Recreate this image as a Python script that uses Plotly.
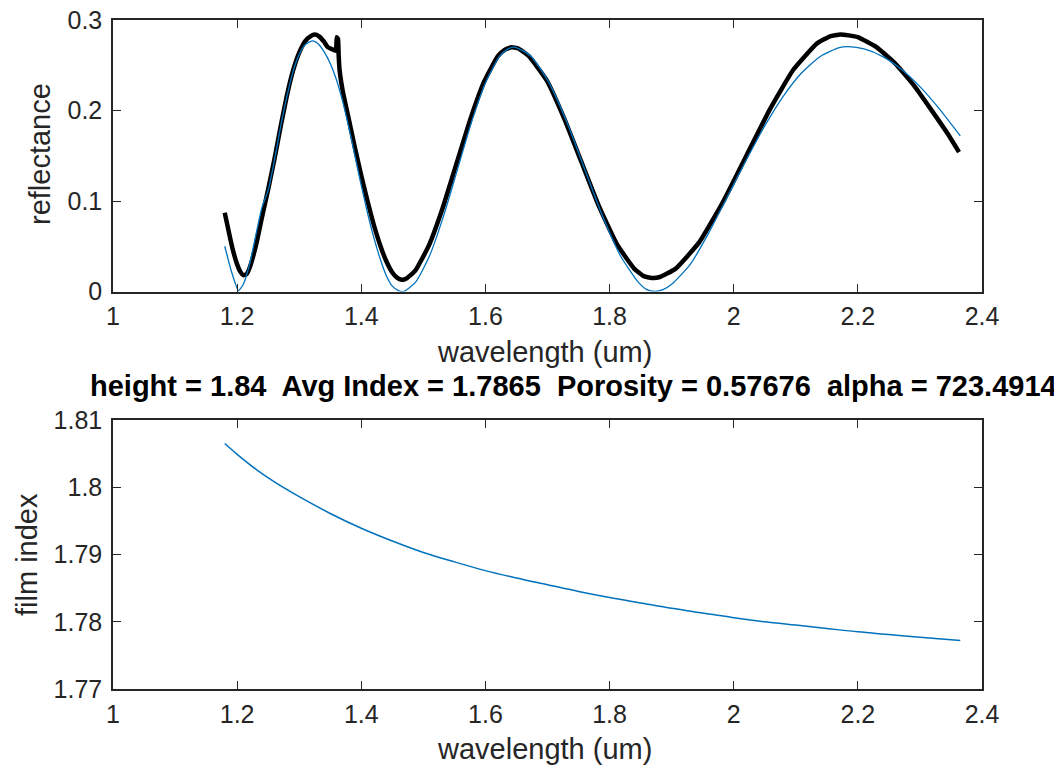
import plotly.graph_objects as go
from plotly.subplots import make_subplots

# ---- data ----
wl_meas = [1.180, 1.185, 1.190, 1.195, 1.200, 1.205, 1.210, 1.215, 1.220,
           1.230, 1.240, 1.250, 1.260, 1.270, 1.280, 1.290, 1.300,
           1.310, 1.318, 1.325, 1.332, 1.340, 1.346, 1.352, 1.359,
           1.3605, 1.3625, 1.3635, 1.365, 1.370,
           1.380, 1.390, 1.400, 1.410, 1.420, 1.430, 1.440, 1.450,
           1.458, 1.465, 1.472,
           1.487, 1.509, 1.531, 1.5535, 1.576, 1.598, 1.620,
           1.631, 1.642, 1.653,
           1.670, 1.699, 1.727, 1.755, 1.783, 1.812, 1.840,
           1.855, 1.868, 1.881,
           1.906, 1.944, 1.982, 2.020, 2.058, 2.096, 2.134,
           2.155, 2.172, 2.185,
           2.200, 2.230, 2.260, 2.290, 2.320, 2.345, 2.363]
refl_meas = [0.087, 0.071, 0.055, 0.041, 0.030, 0.022, 0.018, 0.019, 0.026,
             0.050, 0.082, 0.113, 0.146, 0.182, 0.216, 0.244, 0.264,
             0.277, 0.282, 0.284, 0.282, 0.276, 0.270, 0.268, 0.266,
             0.281, 0.279, 0.262, 0.245, 0.222,
             0.190, 0.158, 0.128, 0.100, 0.074, 0.052, 0.034, 0.021,
             0.015, 0.013, 0.014,
             0.023, 0.051, 0.092, 0.1415, 0.191, 0.232, 0.260,
             0.267, 0.270, 0.2685,
             0.260, 0.233, 0.191, 0.1425, 0.094, 0.052, 0.025,
             0.017, 0.015, 0.016,
             0.025, 0.054, 0.098, 0.1495, 0.201, 0.245, 0.274,
             0.282, 0.284, 0.283,
             0.281, 0.270, 0.252, 0.228, 0.199, 0.174, 0.154]

wl_fit = [1.180, 1.190, 1.196, 1.202, 1.210, 1.220, 1.230, 1.240, 1.250, 1.260,
          1.270, 1.280, 1.290, 1.300, 1.310, 1.322, 1.330, 1.340, 1.350, 1.360,
          1.370, 1.380, 1.390, 1.400, 1.410, 1.420, 1.430, 1.440, 1.450, 1.460,
          1.468, 1.4875, 1.510, 1.5325, 1.555, 1.5775, 1.600, 1.6225, 1.634, 1.645,
          1.656, 1.67375, 1.7025, 1.73125, 1.760, 1.78875, 1.8175, 1.84625, 1.860, 1.873,
          1.886, 1.900, 1.930, 1.960, 1.990, 2.020, 2.050, 2.080, 2.110, 2.140,
          2.170, 2.185, 2.210, 2.240, 2.270, 2.300, 2.330, 2.365]
refl_fit = [0.050, 0.024, 0.011, 0.001, 0.008, 0.030, 0.062, 0.093, 0.112, 0.145,
            0.182, 0.215, 0.243, 0.262, 0.273, 0.277, 0.274, 0.265, 0.252, 0.234,
            0.210, 0.181, 0.149, 0.117, 0.087, 0.060, 0.037, 0.018, 0.006, 0.001,
            0.000, 0.0103, 0.0395, 0.0833, 0.135, 0.187, 0.2305, 0.2597, 0.267, 0.270,
            0.2675, 0.2597, 0.2305, 0.187, 0.135, 0.0833, 0.0395, 0.0103, 0.002, 0.000,
            0.002, 0.008, 0.030, 0.065, 0.105, 0.145, 0.183, 0.216, 0.242, 0.260,
            0.2695, 0.2705, 0.268, 0.2596, 0.2456, 0.2264, 0.2029, 0.172]

wl_index = [1.18, 1.20, 1.23, 1.26, 1.30, 1.35, 1.40, 1.45, 1.50, 1.55, 1.60, 1.65,
            1.70, 1.75, 1.80, 1.85, 1.90, 1.95, 2.00, 2.05, 2.10, 2.15, 2.20, 2.25,
            2.30, 2.365]
film_index = [1.8065, 1.8049, 1.8027, 1.8008, 1.7986, 1.7961, 1.7939, 1.7920, 1.7903,
              1.7889, 1.7876, 1.7865, 1.7855, 1.7845, 1.7836, 1.7828, 1.7820, 1.7813,
              1.7806, 1.7800, 1.7795, 1.7790, 1.7785, 1.7781, 1.7777, 1.7772]

x_ticks = [1, 1.2, 1.4, 1.6, 1.8, 2, 2.2, 2.4]
x_ticktext = ["1", "1.2", "1.4", "1.6", "1.8", "2", "2.2", "2.4"]
refl_ticks = [0, 0.1, 0.2, 0.3]
refl_ticktext = ["0", "0.1", "0.2", "0.3"]
index_ticks = [1.77, 1.78, 1.79, 1.80, 1.81]
index_ticktext = ["1.77", "1.78", "1.79", "1.8", "1.81"]

title_text = "height = 1.84  Avg Index = 1.7865  Porosity = 0.57676  alpha = 723.4914"
xlabel = "wavelength (um)"
ylabel_top = "reflectance"
ylabel_bottom = "film index"

# ---- figure ----
# the page body has an 8px margin, so the figure is made smaller and all
# reference pixel positions are shifted by that offset
OFF = 8
W, H = 1062 - OFF, 770 - OFF
FONT = "Liberation Sans, Arial, Helvetica, sans-serif"
AX = "#262626"
BLUE = "#0072BD"


def fx(px):
    return (px - OFF) / W


def fy(py):
    return 1 - (py - OFF) / H


fig = make_subplots(rows=2, cols=1)

fig.add_trace(go.Scatter(x=wl_meas, y=refl_meas, mode="lines",
                         line=dict(color="black", width=4.5, shape="spline", smoothing=0.4),
                         showlegend=False), row=1, col=1)
fig.add_trace(go.Scatter(x=wl_fit, y=refl_fit, mode="lines",
                         line=dict(color=BLUE, width=1.3, shape="spline", smoothing=0.6),
                         showlegend=False), row=1, col=1)
fig.add_trace(go.Scatter(x=wl_index, y=film_index, mode="lines",
                         line=dict(color=BLUE, width=1.5, shape="spline"),
                         showlegend=False), row=2, col=1)

xd = [fx(113), fx(982)]
y1d = [fy(291.5), fy(20)]
y2d = [fy(689), fy(420)]

axis_common = dict(showgrid=False, zeroline=False, showline=True, linecolor=AX,
                   linewidth=1.5, mirror="ticks", ticks="inside", ticklen=8,
                   tickwidth=1.2, tickcolor=AX, automargin=False,
                   ticklabeloverflow="allow",
                   tickfont=dict(family=FONT, size=25, color=AX))

fig.update_xaxes(**axis_common, range=[1, 2.4], tickvals=x_ticks,
                 ticktext=x_ticktext, domain=xd, ticklabelstandoff=2)
fig.update_yaxes(**axis_common, ticklabelstandoff=4)
fig.update_yaxes(range=[0, 0.3], tickvals=refl_ticks, ticktext=refl_ticktext,
                 domain=y1d, row=1, col=1)
fig.update_yaxes(range=[1.77, 1.81], tickvals=index_ticks, ticktext=index_ticktext,
                 domain=y2d, row=2, col=1)

lab_font = dict(family=FONT, size=29, color=AX)


def px_ann(text, x, y, font, angle=0):
    fig.add_annotation(text=text, xref="paper", yref="paper",
                       x=fx(x), y=fy(y), xanchor="center", yanchor="middle",
                       showarrow=False, textangle=angle, font=font)


px_ann(xlabel, 544, 352, lab_font)
px_ann(xlabel, 544, 749, lab_font)
px_ann(ylabel_top, 40, 154, lab_font, -90)
px_ann(ylabel_bottom, 27, 555, lab_font, -90)
px_ann("<b>" + title_text + "</b>", 573, 386,
       dict(family=FONT, size=29, color="black"))

fig.update_layout(width=W, height=H, autosize=False,
                  margin=dict(l=0, r=0, t=0, b=0, autoexpand=False),
                  paper_bgcolor="white", plot_bgcolor="white")

fig.write_html("out.html")
